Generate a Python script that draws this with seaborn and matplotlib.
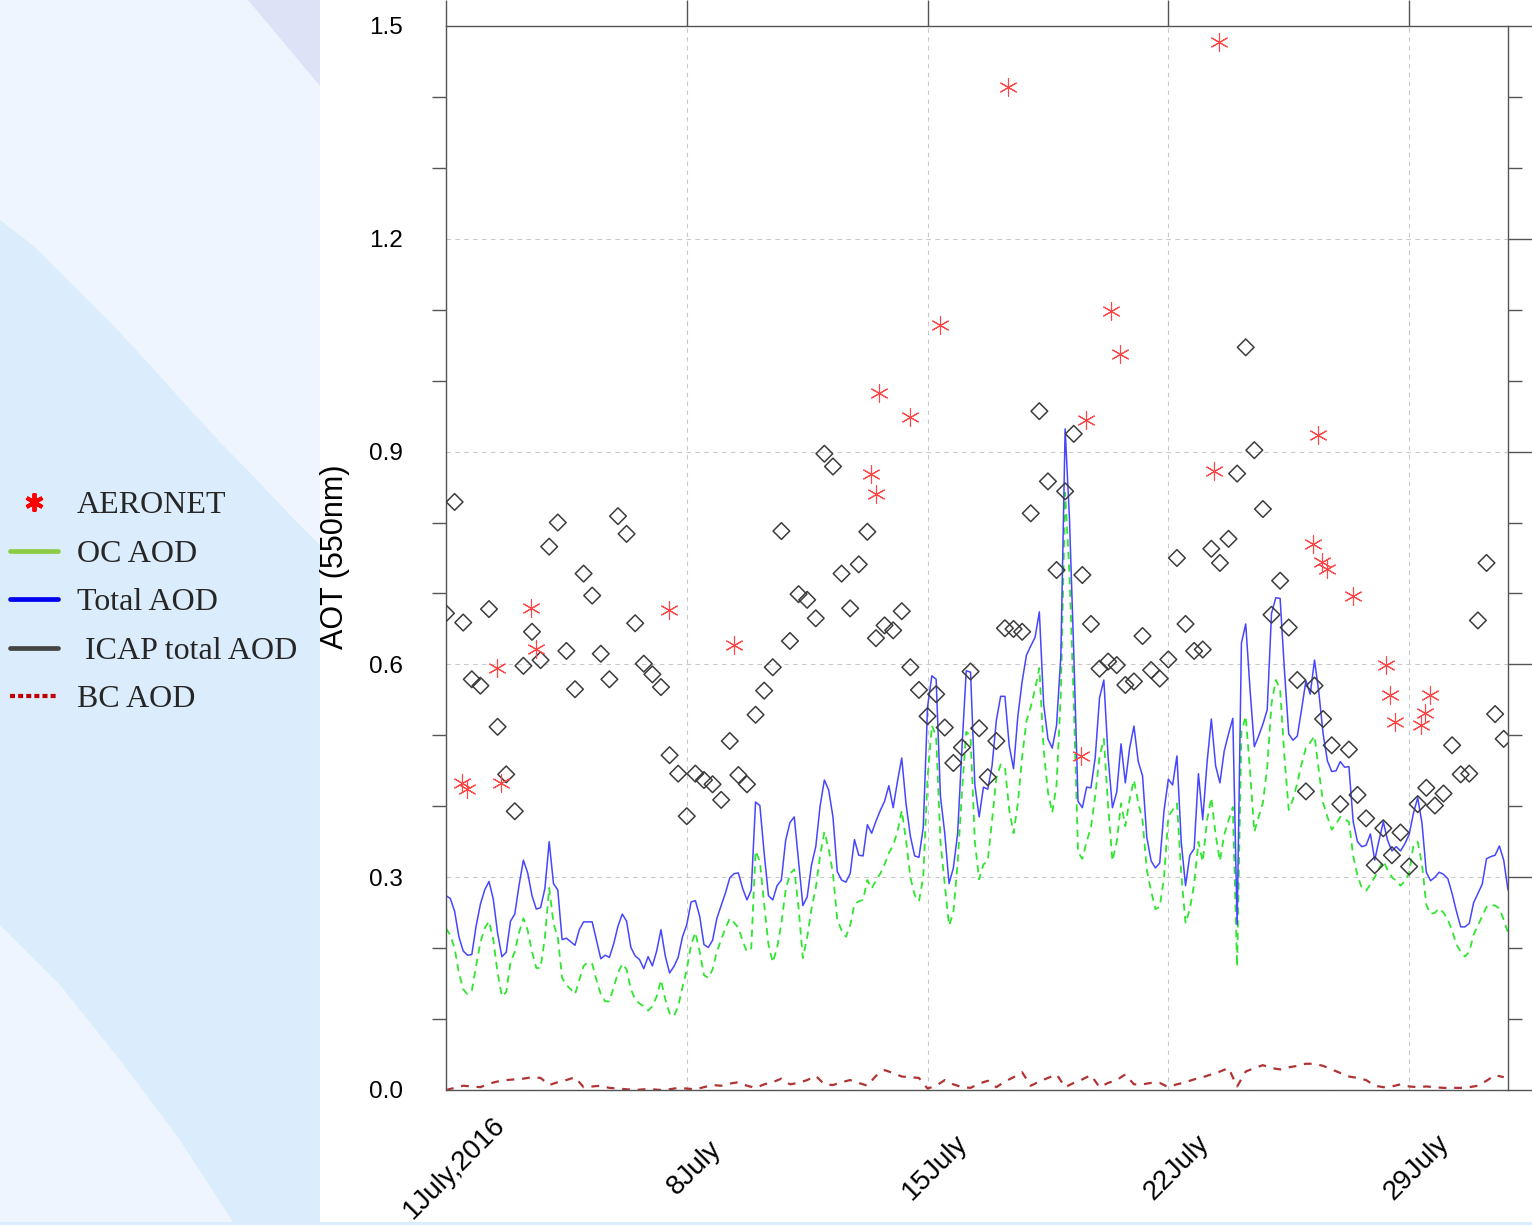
import numpy as np
import matplotlib
matplotlib.use("Agg")
import matplotlib.pyplot as plt
from matplotlib.lines import Line2D
from matplotlib.patches import Polygon, Rectangle
from matplotlib.ticker import MultipleLocator
from matplotlib.transforms import ScaledTranslation
import seaborn as sns

# ---------------- data ----------------
# Total AOD, 3-hourly from 1 July 00 UTC
total_aod = [
    0.274, 0.270, 0.252, 0.216, 0.196, 0.190, 0.191, 0.231,
    0.262, 0.282, 0.294, 0.269, 0.221, 0.188, 0.194, 0.238,
    0.248, 0.289, 0.324, 0.306, 0.274, 0.255, 0.257, 0.284,
    0.350, 0.291, 0.282, 0.212, 0.214, 0.209, 0.204, 0.226,
    0.237, 0.237, 0.237, 0.211, 0.185, 0.190, 0.187, 0.206,
    0.231, 0.248, 0.238, 0.201, 0.189, 0.184, 0.171, 0.188,
    0.175, 0.196, 0.226, 0.189, 0.165, 0.174, 0.187, 0.216,
    0.233, 0.265, 0.267, 0.245, 0.205, 0.201, 0.211, 0.242,
    0.260, 0.278, 0.299, 0.305, 0.306, 0.284, 0.268, 0.282,
    0.406, 0.401, 0.334, 0.274, 0.268, 0.288, 0.296, 0.352,
    0.377, 0.385, 0.322, 0.260, 0.272, 0.317, 0.343, 0.400,
    0.437, 0.423, 0.385, 0.308, 0.296, 0.293, 0.305, 0.353,
    0.331, 0.330, 0.374, 0.362, 0.379, 0.394, 0.407, 0.429,
    0.398, 0.435, 0.468, 0.403, 0.358, 0.330, 0.328, 0.370,
    0.540, 0.584, 0.579, 0.414, 0.362, 0.291, 0.313, 0.362,
    0.482, 0.591, 0.589, 0.430, 0.385, 0.427, 0.424, 0.457,
    0.521, 0.555, 0.555, 0.485, 0.453, 0.527, 0.576, 0.613,
    0.626, 0.638, 0.674, 0.544, 0.495, 0.482, 0.514, 0.612,
    0.932, 0.806, 0.618, 0.407, 0.398, 0.427, 0.426, 0.469,
    0.553, 0.578, 0.469, 0.398, 0.420, 0.488, 0.433, 0.482,
    0.513, 0.463, 0.443, 0.356, 0.323, 0.313, 0.320, 0.394,
    0.438, 0.430, 0.471, 0.350, 0.288, 0.331, 0.340, 0.446,
    0.381, 0.461, 0.523, 0.457, 0.433, 0.478, 0.502, 0.524,
    0.233, 0.630, 0.657, 0.565, 0.484, 0.499, 0.516, 0.536,
    0.672, 0.694, 0.693, 0.592, 0.502, 0.493, 0.499, 0.537,
    0.577, 0.558, 0.606, 0.561, 0.502, 0.464, 0.449, 0.450,
    0.463, 0.455, 0.456, 0.378, 0.350, 0.343, 0.345, 0.361,
    0.324, 0.352, 0.378, 0.352, 0.337, 0.343, 0.337, 0.347,
    0.360, 0.390, 0.412, 0.376, 0.307, 0.295, 0.300, 0.307,
    0.304, 0.298, 0.277, 0.252, 0.230, 0.230, 0.235, 0.264,
    0.277, 0.290, 0.326, 0.329, 0.331, 0.344, 0.324, 0.282,
]

# OC AOD, 3-hourly
oc_aod = [
    0.228, 0.218, 0.200, 0.165, 0.142, 0.135, 0.140, 0.175,
    0.208, 0.228, 0.238, 0.212, 0.165, 0.132, 0.138, 0.180,
    0.195, 0.222, 0.242, 0.225, 0.195, 0.172, 0.172, 0.215,
    0.285, 0.235, 0.215, 0.158, 0.148, 0.142, 0.135, 0.155,
    0.175, 0.180, 0.178, 0.155, 0.135, 0.125, 0.125, 0.145,
    0.165, 0.178, 0.170, 0.142, 0.128, 0.122, 0.118, 0.112,
    0.118, 0.132, 0.155, 0.128, 0.108, 0.104, 0.118, 0.145,
    0.170, 0.205, 0.222, 0.195, 0.162, 0.158, 0.170, 0.195,
    0.212, 0.228, 0.242, 0.236, 0.229, 0.210, 0.195, 0.200,
    0.337, 0.322, 0.262, 0.205, 0.180, 0.200, 0.235, 0.282,
    0.305, 0.311, 0.257, 0.186, 0.215, 0.255, 0.285, 0.330,
    0.364, 0.340, 0.305, 0.240, 0.225, 0.216, 0.232, 0.262,
    0.266, 0.268, 0.296, 0.284, 0.295, 0.305, 0.318, 0.334,
    0.345, 0.364, 0.394, 0.352, 0.300, 0.275, 0.266, 0.300,
    0.440, 0.514, 0.498, 0.350, 0.290, 0.232, 0.250, 0.320,
    0.420, 0.505, 0.498, 0.350, 0.297, 0.318, 0.323, 0.380,
    0.440, 0.459, 0.455, 0.395, 0.362, 0.404, 0.470, 0.520,
    0.540, 0.565, 0.595, 0.480, 0.420, 0.391, 0.430, 0.560,
    0.842, 0.728, 0.547, 0.335, 0.326, 0.350, 0.370, 0.415,
    0.470, 0.495, 0.400, 0.323, 0.350, 0.404, 0.372, 0.410,
    0.437, 0.405, 0.380, 0.310, 0.280, 0.255, 0.258, 0.300,
    0.385, 0.395, 0.404, 0.305, 0.235, 0.255, 0.290, 0.350,
    0.322, 0.380, 0.412, 0.360, 0.323, 0.360, 0.380, 0.399,
    0.174, 0.505, 0.527, 0.450, 0.364, 0.385, 0.405, 0.455,
    0.545, 0.578, 0.565, 0.470, 0.395, 0.410, 0.433, 0.460,
    0.482, 0.490, 0.499, 0.450, 0.405, 0.385, 0.367, 0.375,
    0.385, 0.382, 0.378, 0.330, 0.302, 0.285, 0.281, 0.290,
    0.300, 0.312, 0.323, 0.310, 0.300, 0.295, 0.288, 0.295,
    0.305, 0.345, 0.350, 0.318, 0.261, 0.248, 0.250, 0.256,
    0.250, 0.240, 0.225, 0.205, 0.195, 0.188, 0.195, 0.219,
    0.232, 0.245, 0.258, 0.261, 0.260, 0.256, 0.240, 0.222,
]

# ICAP total AOD, 6-hourly
icap_aod = [
    0.672, 0.829, 0.659, 0.579, 0.570, 0.678, 0.512, 0.445,
    0.393, 0.598, 0.646, 0.606, 0.766, 0.800, 0.619, 0.565,
    0.728, 0.697, 0.615, 0.579, 0.809, 0.784, 0.658, 0.601,
    0.586, 0.568, 0.472, 0.446, 0.386, 0.446, 0.437, 0.431,
    0.409, 0.492, 0.444, 0.431, 0.529, 0.563, 0.596, 0.788,
    0.633, 0.699, 0.691, 0.665, 0.897, 0.879, 0.728, 0.679,
    0.741, 0.787, 0.637, 0.655, 0.648, 0.675, 0.596, 0.564,
    0.527, 0.558, 0.511, 0.461, 0.483, 0.590, 0.510, 0.441,
    0.492, 0.651, 0.650, 0.646, 0.813, 0.957, 0.858, 0.733,
    0.844, 0.925, 0.726, 0.657, 0.594, 0.604, 0.599, 0.571,
    0.576, 0.640, 0.592, 0.580, 0.607, 0.750, 0.657, 0.619,
    0.621, 0.763, 0.743, 0.777, 0.869, 1.047, 0.902, 0.819,
    0.670, 0.718, 0.652, 0.578, 0.421, 0.570, 0.523, 0.486,
    0.403, 0.480, 0.416, 0.383, 0.317, 0.369, 0.331, 0.363,
    0.315, 0.403, 0.426, 0.401, 0.418, 0.486, 0.445, 0.446,
    0.662, 0.743, 0.530, 0.495,
]

# BC AOD, 6-hourly
bc_aod = [
    0.000, 0.003, 0.006, 0.005, 0.004, 0.009, 0.012, 0.014,
    0.015, 0.016, 0.018, 0.017, 0.007, 0.011, 0.014, 0.018,
    0.004, 0.005, 0.006, 0.003, 0.002, 0.001, 0.000, 0.001,
    0.001, 0.000, 0.001, 0.003, 0.002, 0.001, 0.004, 0.007,
    0.006, 0.009, 0.011, 0.006, 0.003, 0.008, 0.011, 0.016,
    0.008, 0.010, 0.014, 0.020, 0.008, 0.007, 0.011, 0.014,
    0.010, 0.006, 0.020, 0.028, 0.024, 0.019, 0.018, 0.017,
    0.002, 0.006, 0.014, 0.008, 0.004, 0.003, 0.009, 0.013,
    0.004, 0.012, 0.018, 0.025, 0.006, 0.012, 0.017, 0.022,
    0.004, 0.010, 0.015, 0.021, 0.004, 0.010, 0.014, 0.022,
    0.008, 0.008, 0.010, 0.010, 0.004, 0.008, 0.011, 0.015,
    0.018, 0.022, 0.026, 0.031, 0.005, 0.026, 0.031, 0.035,
    0.031, 0.029, 0.032, 0.034, 0.037, 0.037, 0.034, 0.029,
    0.024, 0.019, 0.017, 0.014, 0.006, 0.004, 0.005, 0.008,
    0.005, 0.004, 0.005, 0.004, 0.003, 0.003, 0.003, 0.004,
    0.006, 0.013, 0.021, 0.018,
]

# AERONET observations (days since 1 July 00 UTC, AOD)
aeronet_day = [0.465, 0.61, 1.48, 1.60, 2.47, 2.61, 6.48, 8.36, 12.37, 12.49,
               12.60, 13.48, 14.35, 16.35, 18.47, 18.61, 19.34, 19.60, 22.34,
               22.48, 25.21, 25.36, 25.47, 25.62, 26.37, 27.33, 27.45, 27.59,
               28.35, 28.46, 28.61]
aeronet_aod = [0.433, 0.424, 0.595, 0.433, 0.680, 0.622, 0.677, 0.627, 0.868,
               0.840, 0.983, 0.949, 1.078, 1.414, 0.471, 0.944, 1.098, 1.038,
               0.872, 1.477, 0.770, 0.924, 0.745, 0.734, 0.697, 0.599, 0.557,
               0.519, 0.515, 0.531, 0.557]

tick_days = [0, 7, 14, 21, 28]
tick_labels = ['1July,2016', '8July', '15July', '22July', '29July']
y_ticks = [0.0, 0.3, 0.6, 0.9, 1.2, 1.5]
legend_labels = ['AERONET', 'OC AOD', 'Total AOD', ' ICAP total AOD', 'BC AOD']

t3 = np.arange(len(total_aod)) * 0.125   # 3-hourly time axis (days)
t6 = np.arange(len(icap_aod)) * 0.25     # 6-hourly time axis (days)

# ---------------- style ----------------
sns.set_theme(style='white')
plt.rcParams['font.family'] = ['Liberation Sans', 'DejaVu Sans']

W, H = 1532, 1225
fig = plt.figure(figsize=(W / 100, H / 100), dpi=100, facecolor='white')

# decorative slide background on the left
bg = fig.add_axes([0, 0, 320 / W, 1], zorder=0)
bg.set_xlim(0, 320)
bg.set_ylim(H, 0)
bg.axis('off')
bg.add_patch(Rectangle((0, 0), 320, H, color='#dbedfc', lw=0))
bg.add_patch(Polygon([(0, 0), (320, 0), (320, 545), (290, 515), (255, 478),
                      (220, 442), (185, 404), (150, 365), (110, 322),
                      (70, 282), (35, 247), (0, 220)], closed=True,
                     color='#eff5fe', lw=0))
bg.add_patch(Polygon([(248, 0), (320, 0), (320, 86)], closed=True,
                     color='#dde3f7', lw=0))
bg.add_patch(Polygon([(0, 925), (60, 985), (120, 1060), (180, 1140),
                      (235, H), (0, H)], closed=True, color='#eef5fe', lw=0))
fig.patches.append(Rectangle((0, 0), 1, 3 / H, transform=fig.transFigure,
                             color='#dbedfc', lw=0, zorder=0))

# main axes
ax = fig.add_axes([446 / W, 135 / H, 1062 / W, 1064 / H], zorder=1)
ax.set_facecolor('white')

sns.lineplot(x=t3, y=oc_aod, ax=ax, color='#2fe62f', linewidth=1.3)
ax.lines[-1].set_dashes([4, 3])
sns.lineplot(x=t3, y=total_aod, ax=ax, color='#4646ff', linewidth=1.1)
sns.lineplot(x=t6, y=bc_aod, ax=ax, color='#b03434', linewidth=1.6)
ax.lines[-1].set_dashes([3.5, 3.5])

sns.scatterplot(x=t6, y=icap_aod, ax=ax, marker='D', s=72, color='#3c3c3c',
                linewidth=1.1, zorder=3)
c = ax.collections[-1]
c.set_facecolor('none')
c.set_edgecolor('#3c3c3c')
c.set_linewidth(1.1)

sns.scatterplot(x=aeronet_day, y=aeronet_aod, ax=ax, marker=(6, 2, 0), s=165,
                color='#ff4545', linewidth=0.8, zorder=4)
c = ax.collections[-1]
c.set_edgecolor('#ff4545')
c.set_facecolor('#ff4545')
c.set_linewidth(0.8)

ax.set_xlim(0, 30.875)
ax.set_ylim(0, 1.5)
ax.set_xticks(tick_days)
ax.set_yticks(y_ticks)
ax.set_yticklabels(['%.1f' % v for v in y_ticks], fontsize=17.5, color='black')
ax.yaxis.set_minor_locator(MultipleLocator(0.1))

tick_col = '#555555'
ax.tick_params(axis='both', which='major', direction='out', length=19,
               width=1.0, color=tick_col, top=True, right=True,
               labeltop=False, labelright=False)
ax.tick_params(axis='y', which='minor', direction='out', length=10,
               width=1.0, color=tick_col, left=True, right=True)
ax.tick_params(axis='x', which='major', pad=37)
ax.tick_params(axis='y', which='major', pad=12)

# x tick labels: rotated, centred, nudged right like the reference
ax.set_xticklabels(tick_labels, rotation=45, ha='center', va='center',
                   fontsize=20, color='black')
shift = ScaledTranslation(8 / 100, 0, fig.dpi_scale_trans)
for lab in ax.get_xticklabels():
    lab.set_transform(lab.get_transform() + shift)

for sp in ax.spines.values():
    sp.set_visible(True)
    sp.set_color(tick_col)
    sp.set_linewidth(1.0)

ax.grid(True, which='major', axis='both', color='#c9c9c9', lw=0.8,
        ls=(0, (4, 4)))
ax.set_axisbelow(True)

ax.set_xlabel('')
ax.set_ylabel('AOT (550nm)', fontsize=22, color='black')
ax.yaxis.set_label_coords((350 - 446) / 1062, (1090 - 557) / 1064)

# legend in the left panel
handles = [
    Line2D([0], [0], ls='none', marker=(6, 2, 0), ms=13, mew=2.8,
           color='#ff0000'),
    Line2D([0], [0], color='#8ccc45', lw=3.4),
    Line2D([0], [0], color='#0000ee', lw=3.4),
    Line2D([0], [0], color='#444444', lw=3.4),
    Line2D([0], [0], color='#c00000', lw=3.0, ls=(0, (1.2, 0.75))),
]
fig.legend(handles, legend_labels, loc='upper left',
           bbox_to_anchor=(10 / W, 1 - 491 / H), frameon=False,
           prop={'family': 'Liberation Serif', 'size': 23},
           handlelength=1.5, handletextpad=0.6, labelspacing=0.6,
           borderaxespad=0, borderpad=0)

fig.savefig('out.png', dpi=100, facecolor='white')
